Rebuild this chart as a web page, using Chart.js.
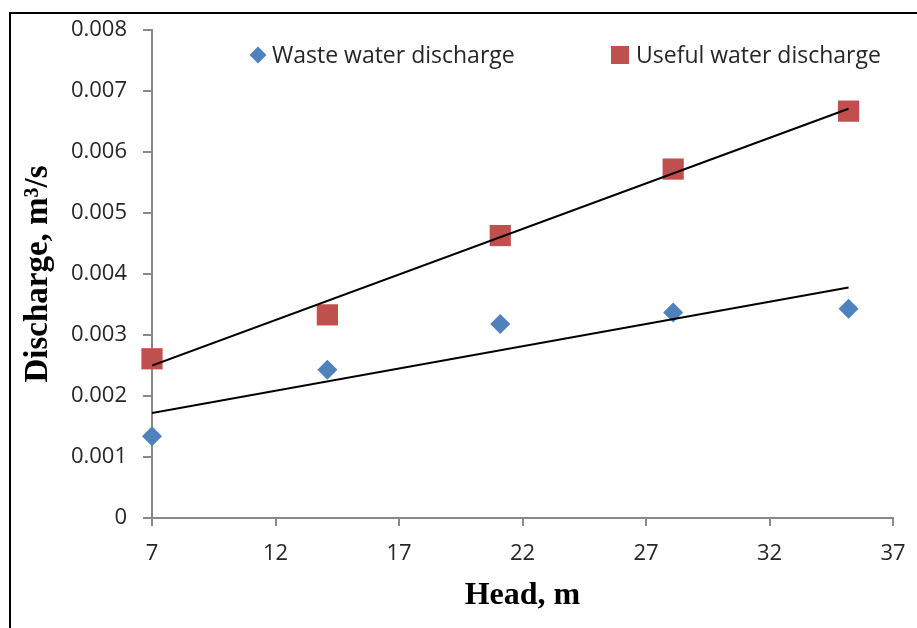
<!DOCTYPE html>
<html>
<head>
<meta charset="utf-8">
<script src="https://cdnjs.cloudflare.com/ajax/libs/Chart.js/4.4.1/chart.umd.min.js"></script>
<style>
  html, body { margin: 0; padding: 0; background: #fff; }
  canvas { display: block; }
</style>
</head>
<body>
<canvas id="chart" width="917" height="628"></canvas>
<script>
// head values, m
const heads = [7, 14.1, 21.1, 28.1, 35.2];
// discharge, m3/s
const wasteDischarge = [0.00134, 0.00243, 0.00318, 0.00337, 0.00343];
const usefulDischarge = [0.00261, 0.00333, 0.00463, 0.00572, 0.00667];
// linear trend end points
const trendHeads = [7, 35.2];
const wasteTrend = [0.00172, 0.00378];
const usefulTrend = [0.00250, 0.00671];

const xTicks = [7, 12, 17, 22, 27, 32, 37];
const yTicks = [0, 0.001, 0.002, 0.003, 0.004, 0.005, 0.006, 0.007, 0.008];

const legendNames = ['Waste water discharge', 'Useful water discharge'];

const BLUE = '#4f81bd';
const RED = '#c0504d';
const AXIS = '#898989';
const TEXT = '#262626';

function toPoints(xs, ys) {
    return xs.map((x, i) => ({ x: x, y: ys[i] }));
}

// frame around the picture + legend inside the plot area
const extras = {
    id: 'extras',
    beforeDraw(chart) {
        const ctx = chart.ctx;
        ctx.save();
        ctx.strokeStyle = '#000';
        ctx.lineWidth = 2;
        ctx.beginPath();
        ctx.moveTo(10, 628);
        ctx.lineTo(10, 13);
        ctx.lineTo(917, 13);
        ctx.stroke();
        ctx.restore();
    },
    afterDraw(chart) {
        const ctx = chart.ctx;
        const a = chart.chartArea;
        ctx.save();
        ctx.font = '23px "Open Sans"';
        ctx.textBaseline = 'middle';
        // diamond
        const dx = a.left + 106, dy = a.top + 25;
        ctx.fillStyle = BLUE;
        ctx.beginPath();
        ctx.moveTo(dx, dy - 8.5);
        ctx.lineTo(dx + 8.5, dy);
        ctx.lineTo(dx, dy + 8.5);
        ctx.lineTo(dx - 8.5, dy);
        ctx.closePath();
        ctx.fill();
        ctx.fillStyle = TEXT;
        ctx.fillText(legendNames[0], a.left + 120, dy + 1);
        // square
        const sx = a.left + 468, sy = a.top + 25;
        ctx.fillStyle = RED;
        ctx.fillRect(sx - 9, sy - 9, 18, 18);
        ctx.fillStyle = TEXT;
        ctx.fillText(legendNames[1], a.left + 484, sy + 1);
        ctx.restore();
    }
};

new Chart(document.getElementById('chart'), {
    type: 'scatter',
    data: {
        datasets: [
            {
                label: 'trend waste',
                data: toPoints(trendHeads, wasteTrend),
                showLine: true,
                borderColor: '#000',
                borderWidth: 2,
                pointRadius: 0,
                order: 0
            },
            {
                label: 'trend useful',
                data: toPoints(trendHeads, usefulTrend),
                showLine: true,
                borderColor: '#000',
                borderWidth: 2,
                pointRadius: 0,
                order: 0
            },
            {
                label: legendNames[0],
                data: toPoints(heads, wasteDischarge),
                pointStyle: 'rectRot',
                pointRadius: 10,
                backgroundColor: BLUE,
                borderWidth: 0,
                clip: false,
                order: 1
            },
            {
                label: legendNames[1],
                data: toPoints(heads, usefulDischarge),
                pointStyle: 'rect',
                pointRadius: 15,
                backgroundColor: RED,
                borderWidth: 0,
                clip: false,
                order: 1
            }
        ]
    },
    options: {
        responsive: false,
        animation: false,
        devicePixelRatio: 1,
        layout: { padding: { top: 30, right: 24, left: 0, bottom: 0 } },
        plugins: {
            legend: { display: false },
            tooltip: { enabled: false }
        },
        scales: {
            x: {
                type: 'linear',
                min: 7,
                max: 37,
                afterBuildTicks: (scale) => { scale.ticks = xTicks.map(v => ({ value: v })); },
                afterFit: (scale) => {
                    scale.height = 110;
                    scale.paddingLeft = 0;
                    scale.paddingRight = 0;
                },
                grid: { drawOnChartArea: false, tickLength: 8, color: AXIS, lineWidth: 2 },
                border: { color: AXIS, width: 2 },
                ticks: {
                    color: TEXT,
                    font: { family: 'Open Sans', size: 22 },
                    padding: 15,
                    callback: (v) => String(v)
                },
                title: {
                    display: true,
                    text: 'Head, m',
                    color: '#000',
                    font: { family: 'Liberation Serif', size: 32, weight: 'bold' },
                    padding: { top: 0, bottom: 13 }
                }
            },
            y: {
                type: 'linear',
                min: 0,
                max: 0.008,
                afterBuildTicks: (scale) => { scale.ticks = yTicks.map(v => ({ value: v })); },
                afterFit: (scale) => {
                    scale.width = 152;
                    scale.paddingTop = 0;
                    scale.paddingBottom = 0;
                },
                grid: { drawOnChartArea: false, tickLength: 9, color: AXIS, lineWidth: 2 },
                border: { color: AXIS, width: 2 },
                ticks: {
                    color: TEXT,
                    font: { family: 'Open Sans', size: 22 },
                    padding: 16,
                    callback: (v) => v === 0 ? '0' : v.toFixed(3)
                },
                title: {
                    display: true,
                    text: 'Discharge, m³/s',
                    color: '#000',
                    font: { family: 'Liberation Serif', size: 33, weight: 'bold' },
                    padding: { top: 19, bottom: 0 }
                }
            }
        }
    },
    plugins: [extras]
});
</script>
</body>
</html>
